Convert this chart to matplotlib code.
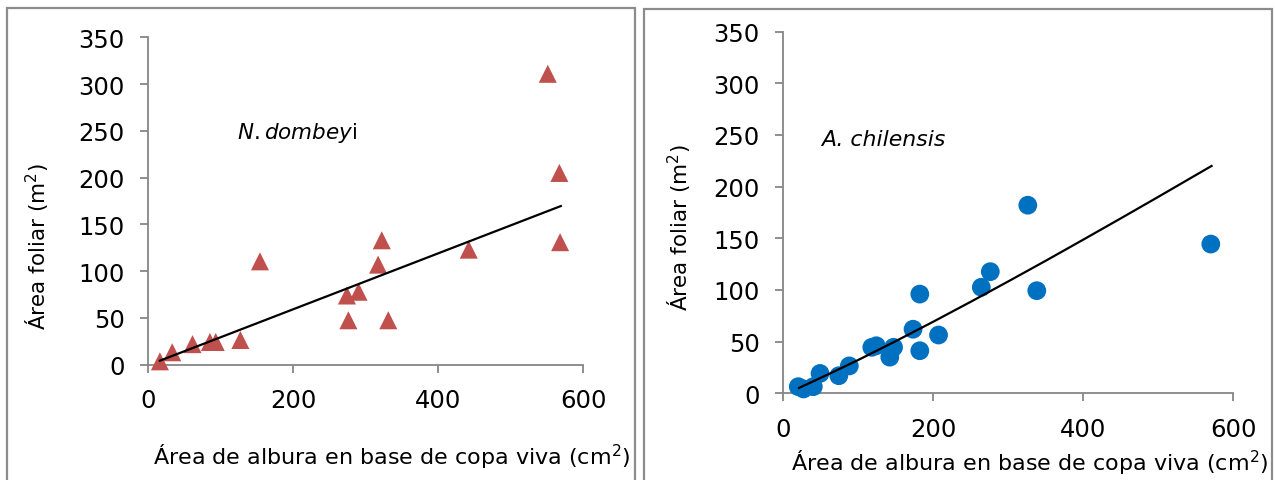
import matplotlib
matplotlib.use("Agg")
import matplotlib.pyplot as plt
from matplotlib.patches import Rectangle

# ---- data ----
# N. dombeyi (left panel)
nd_x = [16, 33, 61, 85, 93, 127, 154, 274, 290, 276, 317, 322, 331, 442, 551, 567, 568]
nd_y = [3.6, 13.3, 22, 24.3, 24.3, 26.4, 110.5, 74, 78, 47.5, 107, 133, 47.5, 123, 311, 205, 131]
nd_fit_x = [16, 569]
nd_fit_y = [4.3, 169.6]

# A. chilensis (right panel)
ac_x = [20, 27, 40, 49, 74, 88, 118, 124, 142, 147, 173, 182, 182, 207, 264, 276, 338, 326, 570]
ac_y = [6.4, 4.2, 6.4, 19.2, 17, 26.5, 44.5, 46, 35, 44.5, 62, 41.2, 96, 56.4, 102.6, 117.7, 99.3, 182, 144.4]
# trend line at several x positions
ac_fit_x = [21, 60, 102, 150, 200, 250, 300, 350, 400, 450, 500, 571]
ac_fit_y = [5.2, 18.4, 33, 50.5, 69.3, 88.6, 108.3, 128.3, 148.7, 169.3, 190.1, 220]

x_ticks = [0, 200, 400, 600]
y_ticks = [0, 50, 100, 150, 200, 250, 300, 350]
x_label = "Área de albura en base de copa viva (cm$^2$)"
y_label = "Área foliar (m$^2$)"

W, H = 1275, 481
fig = plt.figure(figsize=(W / 100, H / 100), dpi=100)


def px(x0, y0, w, h):
    return [x0 / W, 1 - (y0 + h) / H, w / W, h / H]


grey = "#868686"

# panel frames
for (fx0, fy0, fx1) in [(7, 9, 635), (644, 10, 1272)]:
    fig.patches.append(Rectangle((fx0 / W, -0.05), (fx1 - fx0) / W, 1.05 - fy0 / H,
                                 transform=fig.transFigure, fill=False,
                                 edgecolor="#8c8c8c", lw=1.6, zorder=0))

ax1 = fig.add_axes(px(148.3, 38.3, 435, 327.4))
ax2 = fig.add_axes(px(783.3, 32.6, 450, 361.7))

for ax in (ax1, ax2):
    ax.set_xlim(0, 600)
    ax.set_ylim(0, 350)
    ax.set_xticks(x_ticks)
    ax.set_yticks(y_ticks)
    for s in ("top", "right"):
        ax.spines[s].set_visible(False)
    for s in ("left", "bottom"):
        ax.spines[s].set_color(grey)
        ax.spines[s].set_linewidth(1.3)
    ax.tick_params(direction="out", length=6, width=1.3, color=grey,
                   labelsize=17.5, pad=11, labelcolor="black")
    ax.patch.set_alpha(0)

ax1.scatter(nd_x, nd_y, marker="^", s=13.0 ** 2, color="#C0504D",
            edgecolors="none", clip_on=False, zorder=3)
ax1.plot(nd_fit_x, nd_fit_y, color="black", lw=1.6, zorder=4)

ax2.scatter(ac_x, ac_y, marker="o", s=13.5 ** 2, color="#0070C0",
            edgecolors="none", clip_on=False, zorder=3)
ax2.plot(ac_fit_x, ac_fit_y, color="black", lw=1.6, zorder=4,
         solid_joinstyle="round")

# annotations
fig.text(237 / W, 1 - 133 / H, r"$\it{N.dombey}$i", fontsize=15.5,
         ha="left", va="center")
fig.text(821 / W, 1 - 140 / H, "A. chilensis", fontsize=15.8, style="italic",
         ha="left", va="center")

# axis titles
fig.text(391.5 / W, 1 - 457 / H, x_label, fontsize=16, ha="center", va="center")
fig.text(1030 / W, 1 - 463 / H, x_label, fontsize=16, ha="center", va="center")
fig.text(37 / W, 1 - 247 / H, y_label, fontsize=15.5, ha="center", va="center",
         rotation=90)
fig.text(679 / W, 1 - 228 / H, y_label, fontsize=15.5, ha="center", va="center",
         rotation=90)

fig.savefig("out.png", dpi=100)
